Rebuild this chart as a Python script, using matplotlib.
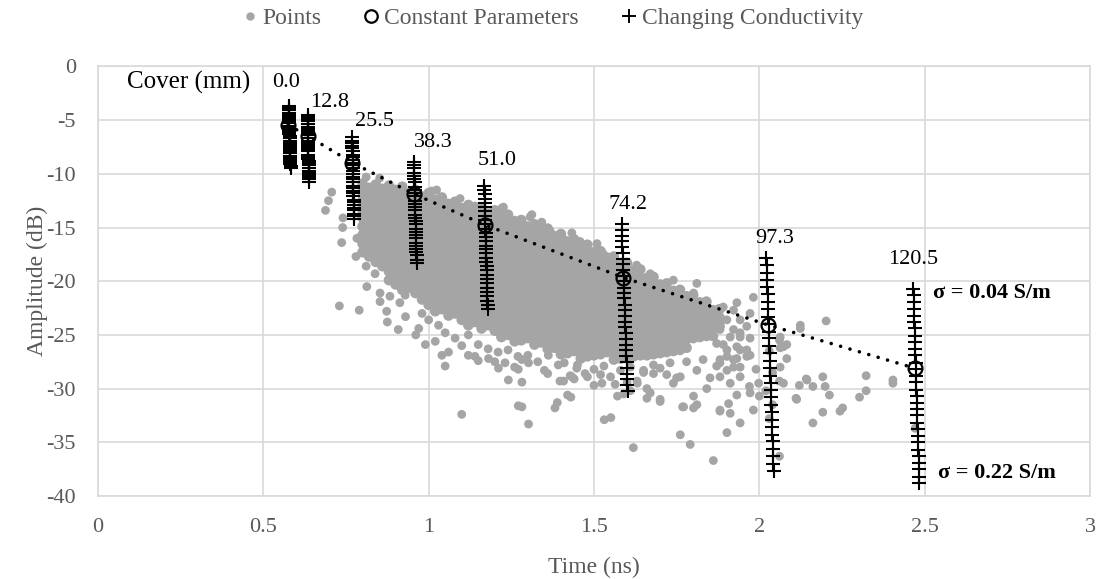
import matplotlib.pyplot as plt
from matplotlib.lines import Line2D

plt.rcParams['font.family'] = ['Liberation Serif', 'DejaVu Serif']

# dense part of the gray cloud, read slice by slice: (time, [amplitudes])
cloud_core = [
    (0.80, [-10.9, -11.7, -12.5, -13.3, -14.1, -14.9, -15.7, -16.5, -17.3]),
    (0.82, [-11.3, -12.1, -12.9, -13.7, -14.5, -15.3, -16.1, -16.9, -17.7]),
    (0.84, [-11.0, -11.8, -12.6, -13.4, -14.2, -15.0, -15.8, -16.6, -17.4, -18.2]),
    (0.86, [-11.4, -12.2, -13.0, -13.8, -14.6, -15.4, -16.2, -17.0, -17.8, -18.6]),
    (0.88, [-11.1, -11.9, -12.7, -13.5, -14.3, -15.1, -15.9, -16.7, -17.5, -18.3, -19.1, -19.9]),
    (0.90, [-11.5, -12.3, -13.1, -13.9, -14.7, -15.5, -16.3, -17.1, -17.9, -18.7, -19.5, -20.3]),
    (0.92, [-11.2, -12.0, -12.8, -13.6, -14.4, -15.2, -16.0, -16.8, -17.6, -18.4, -19.2, -20.0, -20.8]),
    (0.94, [-11.8, -12.6, -13.4, -14.2, -15.0, -15.8, -16.6, -17.4, -18.2, -19.0, -19.8, -20.6]),
    (0.96, [-11.5, -12.3, -13.1, -13.9, -14.7, -15.5, -16.3, -17.1, -17.9, -18.7, -19.5, -20.3, -21.1]),
    (0.98, [-12.1, -12.9, -13.7, -14.5, -15.3, -16.1, -16.9, -17.7, -18.5, -19.3, -20.1, -20.9, -21.7]),
    (1.00, [-11.8, -12.6, -13.4, -14.2, -15.0, -15.8, -16.6, -17.4, -18.2, -19.0, -19.8, -20.6, -21.4, -22.2]),
    (1.02, [-12.4, -13.2, -14.0, -14.8, -15.6, -16.4, -17.2, -18.0, -18.8, -19.6, -20.4, -21.2, -22.0, -22.8]),
    (1.04, [-12.2, -13.0, -13.8, -14.6, -15.4, -16.2, -17.0, -17.8, -18.6, -19.4, -20.2, -21.0, -21.8, -22.6]),
    (1.06, [-12.8, -13.6, -14.4, -15.2, -16.0, -16.8, -17.6, -18.4, -19.2, -20.0, -20.8, -21.6, -22.4, -23.2]),
    (1.08, [-12.6, -13.4, -14.2, -15.0, -15.8, -16.6, -17.4, -18.2, -19.0, -19.8, -20.6, -21.4, -22.2, -23.0]),
    (1.10, [-13.2, -14.0, -14.8, -15.6, -16.4, -17.2, -18.0, -18.8, -19.6, -20.4, -21.2, -22.0, -22.8, -23.6]),
    (1.12, [-12.9, -13.7, -14.5, -15.3, -16.1, -16.9, -17.7, -18.5, -19.3, -20.1, -20.9, -21.7, -22.5, -23.3, -24.1]),
    (1.14, [-13.4, -14.2, -15.0, -15.8, -16.6, -17.4, -18.2, -19.0, -19.8, -20.6, -21.4, -22.2, -23.0, -23.8]),
    (1.16, [-13.2, -14.0, -14.8, -15.6, -16.4, -17.2, -18.0, -18.8, -19.6, -20.4, -21.2, -22.0, -22.8, -23.6, -24.4]),
    (1.18, [-13.7, -14.5, -15.3, -16.1, -16.9, -17.7, -18.5, -19.3, -20.1, -20.9, -21.7, -22.5, -23.3, -24.1]),
    (1.20, [-13.4, -14.2, -15.0, -15.8, -16.6, -17.4, -18.2, -19.0, -19.8, -20.6, -21.4, -22.2, -23.0, -23.8, -24.6]),
    (1.22, [-14.0, -14.8, -15.6, -16.4, -17.2, -18.0, -18.8, -19.6, -20.4, -21.2, -22.0, -22.8, -23.6, -24.4, -25.2]),
    (1.24, [-13.8, -14.6, -15.4, -16.2, -17.0, -17.8, -18.6, -19.4, -20.2, -21.0, -21.8, -22.6, -23.4, -24.2, -25.0]),
    (1.26, [-14.4, -15.2, -16.0, -16.8, -17.6, -18.4, -19.2, -20.0, -20.8, -21.6, -22.4, -23.2, -24.0, -24.8, -25.6]),
    (1.28, [-14.3, -15.1, -15.9, -16.7, -17.5, -18.3, -19.1, -19.9, -20.7, -21.5, -22.3, -23.1, -23.9, -24.7, -25.5]),
    (1.30, [-14.9, -15.7, -16.5, -17.3, -18.1, -18.9, -19.7, -20.5, -21.3, -22.1, -22.9, -23.7, -24.5, -25.3]),
    (1.32, [-14.7, -15.5, -16.3, -17.1, -17.9, -18.7, -19.5, -20.3, -21.1, -21.9, -22.7, -23.5, -24.3, -25.1, -25.9]),
    (1.34, [-15.3, -16.1, -16.9, -17.7, -18.5, -19.3, -20.1, -20.9, -21.7, -22.5, -23.3, -24.1, -24.9, -25.7]),
    (1.36, [-15.1, -15.9, -16.7, -17.5, -18.3, -19.1, -19.9, -20.7, -21.5, -22.3, -23.1, -23.9, -24.7, -25.5, -26.3]),
    (1.38, [-15.8, -16.6, -17.4, -18.2, -19.0, -19.8, -20.6, -21.4, -22.2, -23.0, -23.8, -24.6, -25.4, -26.2]),
    (1.40, [-15.6, -16.4, -17.2, -18.0, -18.8, -19.6, -20.4, -21.2, -22.0, -22.8, -23.6, -24.4, -25.2, -26.0, -26.8]),
    (1.42, [-16.3, -17.1, -17.9, -18.7, -19.5, -20.3, -21.1, -21.9, -22.7, -23.5, -24.3, -25.1, -25.9, -26.7]),
    (1.44, [-16.1, -16.9, -17.7, -18.5, -19.3, -20.1, -20.9, -21.7, -22.5, -23.3, -24.1, -24.9, -25.7, -26.5]),
    (1.46, [-16.8, -17.6, -18.4, -19.2, -20.0, -20.8, -21.6, -22.4, -23.2, -24.0, -24.8, -25.6, -26.4, -27.2]),
    (1.48, [-16.6, -17.4, -18.2, -19.0, -19.8, -20.6, -21.4, -22.2, -23.0, -23.8, -24.6, -25.4, -26.2, -27.0]),
    (1.50, [-17.3, -18.1, -18.9, -19.7, -20.5, -21.3, -22.1, -22.9, -23.7, -24.5, -25.3, -26.1, -26.9]),
    (1.52, [-17.2, -18.0, -18.8, -19.6, -20.4, -21.2, -22.0, -22.8, -23.6, -24.4, -25.2, -26.0, -26.8]),
    (1.54, [-17.8, -18.6, -19.4, -20.2, -21.0, -21.8, -22.6, -23.4, -24.2, -25.0, -25.8, -26.6]),
    (1.56, [-17.7, -18.5, -19.3, -20.1, -20.9, -21.7, -22.5, -23.3, -24.1, -24.9, -25.7, -26.5, -27.3]),
    (1.58, [-18.4, -19.2, -20.0, -20.8, -21.6, -22.4, -23.2, -24.0, -24.8, -25.6, -26.4, -27.2]),
    (1.60, [-18.3, -19.1, -19.9, -20.7, -21.5, -22.3, -23.1, -23.9, -24.7, -25.5, -26.3, -27.1]),
    (1.62, [-19.0, -19.8, -20.6, -21.4, -22.2, -23.0, -23.8, -24.6, -25.4, -26.2, -27.0]),
    (1.64, [-18.9, -19.7, -20.5, -21.3, -22.1, -22.9, -23.7, -24.5, -25.3, -26.1, -26.9]),
    (1.66, [-19.7, -20.5, -21.3, -22.1, -22.9, -23.7, -24.5, -25.3, -26.1, -26.9]),
    (1.68, [-19.6, -20.4, -21.2, -22.0, -22.8, -23.6, -24.4, -25.2, -26.0, -26.8]),
    (1.70, [-20.3, -21.1, -21.9, -22.7, -23.5, -24.3, -25.1, -25.9, -26.7]),
    (1.72, [-20.2, -21.0, -21.8, -22.6, -23.4, -24.2, -25.0, -25.8, -26.6]),
    (1.74, [-20.9, -21.7, -22.5, -23.3, -24.1, -24.9, -25.7, -26.5]),
    (1.76, [-20.8, -21.6, -22.4, -23.2, -24.0, -24.8, -25.6, -26.4]),
    (1.78, [-21.4, -22.2, -23.0, -23.8, -24.6, -25.4, -26.2]),
    (1.80, [-21.3, -22.1, -22.9, -23.7, -24.5, -25.3]),
    (1.82, [-22.0, -22.8, -23.6, -24.4, -25.2]),
    (1.84, [-21.9, -22.7, -23.5, -24.3, -25.1]),
    (1.86, [-22.7, -23.5, -24.3, -25.1]),
    (1.88, [-22.6, -23.4, -24.2]),
]

# scattered points round the dense part: (time, amplitude)
cloud_extra = [
    (0.707, -11.7), (0.697, -12.5), (0.688, -13.4), (0.741, -14.1), (0.740, -15.0),
    (0.737, -16.4), (0.730, -22.3), (0.790, -22.7),
    (0.811, -10.3), (0.852, -10.4), (0.798, -13.4), (0.783, -16.0), (0.780, -17.7),
    (0.808, -16.9), (0.811, -18.6), (0.838, -19.3), (0.813, -20.5), (0.853, -21.1),
    (0.853, -21.9), (0.873, -22.8), (0.875, -23.8), (0.908, -24.5), (0.961, -25.0),
    (0.913, -22.0), (0.929, -21.3), (0.843, -17.6), (0.883, -21.4),
    (1.009, -11.6), (1.024, -11.5), (1.095, -12.3), (1.140, -13.0), (1.221, -13.2),
    (1.226, -13.1), (1.307, -14.0), (1.312, -13.8), (1.342, -14.5), (1.367, -15.3),
    (1.403, -15.8), (1.433, -15.5), (1.458, -16.3), (1.509, -16.5), (1.529, -17.5),
    (1.629, -18.5), (1.670, -19.3), (1.705, -20.3), (1.740, -19.9), (1.811, -20.2),
    (1.761, -20.8), (1.801, -21.1), (1.821, -21.9), (1.891, -22.4), (1.932, -22.0),
    (1.982, -21.5),
    (0.93, -23.3), (0.98, -23.0), (1.00, -23.6), (1.03, -24.1), (0.97, -24.4),
    (1.05, -24.8), (1.08, -25.3), (1.02, -25.6), (1.12, -25.0), (1.10, -26.0),
    (1.15, -25.9), (1.18, -26.3), (1.21, -26.6), (1.24, -26.4), (1.27, -27.0),
    (1.14, -27.0), (1.20, -27.5), (1.30, -26.9), (1.33, -27.5), (1.26, -28.0),
    (1.35, -28.3), (1.06, -26.6), (0.99, -25.9), (1.04, -26.9),
    (1.45, -27.8), (1.50, -28.2), (1.53, -27.9), (1.58, -28.3), (1.61, -28.0),
    (1.55, -28.9), (1.65, -28.5), (1.70, -28.1), (1.73, -27.6), (1.68, -27.8),
    (1.78, -27.5), (1.83, -27.3), (1.63, -29.3), (1.75, -29.0), (1.41, -27.6),
    (1.36, -28.6), (1.44, -29.1), (1.52, -28.7), (1.60, -29.4), (1.59, -30.5),
    (1.61, -30.2),
    (1.050, -27.9), (1.100, -32.4), (1.120, -26.9), (1.150, -27.4), (1.181, -27.2),
    (1.211, -28.1), (1.241, -29.2), (1.231, -27.6), (1.271, -28.2), (1.282, -29.4),
    (1.271, -31.6), (1.282, -31.7), (1.302, -33.3), (1.282, -27.3), (1.302, -27.6),
    (1.362, -26.9), (1.392, -27.8), (1.408, -29.3), (1.397, -29.3), (1.382, -31.8),
    (1.389, -31.3), (1.420, -30.6), (1.430, -30.8), (1.433, -28.9), (1.473, -28.6),
    (1.480, -28.9), (1.500, -29.7), (1.524, -29.5), (1.531, -32.9), (1.551, -32.7),
    (1.564, -29.6), (1.571, -30.7), (1.619, -35.5), (1.631, -29.5), (1.660, -30.0),
    (1.660, -30.9), (1.448, -28.1), (1.473, -27.0), (1.428, -28.8),
    (1.650, -28.3), (1.680, -28.6), (1.720, -28.7), (1.761, -28.9), (1.740, -29.5),
    (1.811, -28.3), (1.851, -29.0), (1.670, -30.4), (1.700, -31.0), (1.700, -31.2),
    (1.771, -31.7), (1.811, -31.5), (1.801, -30.7), (1.841, -30.0), (1.881, -32.0),
    (1.907, -31.4), (1.912, -32.3), (1.942, -33.2), (1.902, -34.1), (1.761, -34.3),
    (1.791, -35.2), (1.861, -36.7), (1.768, -31.7), (1.801, -31.8), (1.881, -32.1),
    (1.982, -32.0), (1.972, -30.4), (1.998, -29.5), (2.000, -30.7), (1.970, -29.8),
    (1.932, -30.6), (1.912, -29.5), (1.881, -28.9), (1.942, -28.9), (1.922, -28.0),
    (1.871, -27.9), (1.881, -27.3), (1.922, -27.3), (1.962, -27.0), (1.962, -26.4),
    (1.932, -26.1), (1.902, -26.4), (1.871, -25.8), (1.942, -25.2), (1.972, -25.3),
    (1.922, -24.5), (1.881, -24.5), (1.962, -24.2), (1.902, -23.6), (1.871, -23.1),
    (1.922, -22.7), (1.881, -23.9), (1.942, -23.6), (1.972, -23.0), (1.942, -24.8),
    (1.912, -25.2), (1.891, -25.9), (1.942, -26.4), (1.932, -27.2), (1.972, -26.9),
    (1.902, -27.0), (1.881, -27.6), (1.942, -28.0), (1.902, -28.3), (1.990, -28.2),
    (2.03, -26.5), (2.04, -28.5), (2.02, -30.2), (2.04, -31.5), (2.03, -32.8),
    (2.061, -25.5), (2.073, -26.1), (2.063, -25.2), (2.083, -25.9), (2.063, -26.2),
    (2.083, -27.2), (2.063, -28.0), (2.073, -29.5), (2.061, -29.3), (2.061, -36.3),
    (2.124, -24.1), (2.124, -24.4), (2.202, -23.7), (2.144, -29.2), (2.121, -29.7),
    (2.113, -31.0), (2.162, -29.8), (2.192, -28.9), (2.199, -29.8), (2.212, -30.6),
    (2.192, -32.2), (2.162, -33.2), (2.244, -32.1), (2.252, -31.8), (2.303, -30.8),
    (2.323, -30.2), (2.323, -28.8), (2.404, -29.2), (2.404, -29.5), (2.471, -33.7),
    (2.111, -30.9), (2.142, -29.1),
]

# constant parameters, one per cover depth
cover_labels = ['0.0', '12.8', '25.5', '38.3', '51.0', '74.2', '97.3', '120.5']
const_t = [0.575, 0.634, 0.769, 0.957, 1.171, 1.589, 2.026, 2.471]
const_a = [-5.45, -6.47, -8.96, -11.9, -14.76, -19.66, -24.07, -28.1]

# changing conductivity (0.04 -> 0.22 S/m), one column per cover depth
cond_t = [
    [0.577, 0.577, 0.577, 0.577, 0.578, 0.578, 0.578, 0.578, 0.578, 0.579, 0.579, 0.579, 0.579, 0.579, 0.580,
     0.580, 0.580, 0.580, 0.580, 0.581, 0.581, 0.581, 0.581, 0.581, 0.582, 0.582, 0.582, 0.582, 0.583, 0.583],
    [0.634, 0.634, 0.634, 0.634, 0.634, 0.634, 0.635, 0.635, 0.635, 0.635, 0.635, 0.635, 0.635, 0.636, 0.636,
     0.636, 0.636, 0.636, 0.636, 0.636, 0.637, 0.637, 0.637, 0.637, 0.637, 0.637, 0.637, 0.638, 0.638, 0.638],
    [0.769, 0.769, 0.769, 0.769, 0.769, 0.770, 0.770, 0.770, 0.770, 0.770, 0.770, 0.771, 0.771, 0.771, 0.771,
     0.771, 0.772, 0.772, 0.772, 0.772, 0.772, 0.772, 0.773, 0.773, 0.773, 0.773, 0.773, 0.774, 0.774, 0.774],
    [0.956, 0.956, 0.956, 0.957, 0.957, 0.957, 0.958, 0.958, 0.958, 0.958, 0.959, 0.959, 0.959, 0.960, 0.960,
     0.960, 0.960, 0.961, 0.961, 0.961, 0.962, 0.962, 0.962, 0.962, 0.963, 0.963, 0.963, 0.964, 0.964, 0.964],
    [1.168, 1.168, 1.169, 1.169, 1.169, 1.170, 1.170, 1.170, 1.171, 1.171, 1.171, 1.172, 1.172, 1.172, 1.173,
     1.173, 1.174, 1.174, 1.174, 1.175, 1.175, 1.175, 1.176, 1.176, 1.176, 1.177, 1.177, 1.177, 1.178, 1.178],
    [1.584, 1.585, 1.585, 1.586, 1.586, 1.587, 1.588, 1.588, 1.589, 1.590, 1.590, 1.591, 1.591, 1.592, 1.593,
     1.593, 1.594, 1.595, 1.595, 1.596, 1.596, 1.597, 1.598, 1.598, 1.599, 1.600, 1.600, 1.601, 1.601, 1.602],
    [2.021, 2.022, 2.023, 2.023, 2.024, 2.025, 2.026, 2.026, 2.027, 2.028, 2.029, 2.029, 2.030, 2.031, 2.032,
     2.032, 2.033, 2.034, 2.035, 2.035, 2.036, 2.037, 2.038, 2.038, 2.039, 2.040, 2.041, 2.041, 2.042, 2.043],
    [2.466, 2.467, 2.467, 2.468, 2.468, 2.469, 2.470, 2.470, 2.471, 2.472, 2.472, 2.473, 2.473, 2.474, 2.475,
     2.475, 2.476, 2.477, 2.477, 2.478, 2.478, 2.479, 2.480, 2.480, 2.481, 2.482, 2.482, 2.483, 2.483, 2.484],
]
cond_a = [
    [-3.7, -3.9, -4.1, -4.3, -4.5, -4.7, -4.9, -5.1, -5.3, -5.5, -5.7, -5.9, -6.1, -6.3, -6.5,
     -6.7, -6.9, -7.1, -7.3, -7.5, -7.7, -7.9, -8.1, -8.3, -8.5, -8.7, -8.9, -9.1, -9.3, -9.5],
    [-4.5, -4.7, -4.9, -5.1, -5.4, -5.6, -5.8, -6.0, -6.2, -6.4, -6.7, -6.9, -7.1, -7.3, -7.5,
     -7.7, -7.9, -8.2, -8.4, -8.6, -8.8, -9.0, -9.2, -9.5, -9.7, -9.9, -10.1, -10.3, -10.5, -10.8],
    [-6.6, -6.9, -7.1, -7.4, -7.6, -7.9, -8.2, -8.4, -8.7, -9.0, -9.2, -9.5, -9.7, -10.0, -10.3,
     -10.5, -10.8, -11.1, -11.3, -11.6, -11.8, -12.1, -12.4, -12.6, -12.9, -13.2, -13.4, -13.7, -13.9, -14.2],
    [-8.9, -9.2, -9.5, -9.9, -10.2, -10.5, -10.8, -11.2, -11.5, -11.8, -12.1, -12.5, -12.8, -13.1, -13.4,
     -13.8, -14.1, -14.4, -14.7, -15.1, -15.4, -15.7, -16.0, -16.4, -16.7, -17.0, -17.3, -17.6, -18.0, -18.3],
    [-11.1, -11.5, -11.9, -12.3, -12.7, -13.1, -13.5, -13.9, -14.3, -14.7, -15.1, -15.5, -15.9, -16.3, -16.7,
     -17.0, -17.4, -17.8, -18.2, -18.6, -19.0, -19.4, -19.8, -20.2, -20.6, -21.0, -21.4, -21.8, -22.2, -22.6],
    [-14.7, -15.2, -15.8, -16.3, -16.8, -17.4, -17.9, -18.4, -19.0, -19.5, -20.0, -20.6, -21.1, -21.6, -22.2,
     -22.7, -23.2, -23.8, -24.3, -24.8, -25.4, -25.9, -26.4, -27.0, -27.5, -28.1, -28.6, -29.1, -29.7, -30.2],
    [-17.8, -18.5, -19.2, -19.9, -20.5, -21.2, -21.9, -22.6, -23.3, -24.0, -24.7, -25.3, -26.0, -26.7, -27.4,
     -28.1, -28.8, -29.5, -30.1, -30.8, -31.5, -32.2, -32.9, -33.6, -34.3, -34.9, -35.6, -36.3, -37.0, -37.7],
    [-20.7, -21.3, -21.9, -22.6, -23.2, -23.8, -24.4, -25.1, -25.7, -26.3, -26.9, -27.6, -28.2, -28.8, -29.4,
     -30.1, -30.7, -31.3, -31.9, -32.5, -33.2, -33.8, -34.4, -35.0, -35.7, -36.3, -36.9, -37.5, -38.2, -38.8],
]

# where the cover labels sit (time, amplitude of the text centre)
label_t = [0.569, 0.699, 0.835, 1.013, 1.207, 1.603, 2.045, 2.465]
label_a = [-1.5, -3.4, -5.1, -7.1, -8.8, -12.9, -16.0, -18.0]

x_ticks = [0, 0.5, 1, 1.5, 2, 2.5, 3]
x_labels = ['0', '0.5', '1', '1.5', '2', '2.5', '3']
y_ticks = [0, -5, -10, -15, -20, -25, -30, -35, -40]

gray = '#a5a5a5'
txt = '#595959'
grid = '#d9d9d9'

fig = plt.figure(figsize=(11.01, 5.79), dpi=100)
ax = fig.add_axes([0.089, 0.1434, 0.901, 0.7418])

core_t = []
core_a = []
for t, amps in cloud_core:
    for a in amps:
        core_t.append(t)
        core_a.append(a)
extra_t = [p[0] for p in cloud_extra]
extra_a = [p[1] for p in cloud_extra]

# the dense band is drawn with slightly fuller dots so it closes up like the original
ax.scatter(core_t, core_a, s=58, color=gray, edgecolors='none', zorder=2)
ax.scatter(extra_t, extra_a, s=40, color=gray, edgecolors='none', zorder=2)

# dotted line through the constant-parameter points
ax.plot(const_t, const_a, color='black', lw=2.6, linestyle=(0, (0.01, 2.7)),
        dash_capstyle='round', zorder=3)
ax.plot(const_t, const_a, 'o', ms=10, mfc='none', mec='black', mew=1.6, zorder=4)

for ts, amps in zip(cond_t, cond_a):
    ax.plot(ts, amps, '+', ms=9.5, mew=1.5, color='black', linestyle='none', zorder=5)

for lab, t, a in zip(cover_labels, label_t, label_a):
    ax.text(t, a, lab, ha='center', va='center', fontsize=16, color='black', zorder=6)
ax.text(0.275, -1.5, 'Cover (mm)', ha='center', va='center', fontsize=18, color='black')
ax.text(2.526, -21.1, 'σ = 0.04 S/m', ha='left', va='center', fontsize=16, fontweight='bold')
ax.text(2.541, -37.9, 'σ = 0.22 S/m', ha='left', va='center', fontsize=16, fontweight='bold')

ax.set_xlim(0, 3)
ax.set_ylim(-40, 0)
ax.set_xticks(x_ticks)
ax.set_xticklabels(x_labels)
ax.set_yticks(y_ticks)
ax.set_yticklabels([str(v) for v in y_ticks])
ax.tick_params(length=0, labelsize=16, labelcolor=txt, pad=16)
ax.grid(True, color=grid, lw=1.2, zorder=0)
ax.set_axisbelow(True)
for sp in ax.spines.values():
    sp.set_color(grid)
    sp.set_linewidth(1.2)

ax.set_xlabel('Time (ns)', fontsize=17, color=txt, labelpad=14)
ax.set_ylabel('Amplitude (dB)', fontsize=17, color=txt, labelpad=-1)

handles = [
    Line2D([], [], marker='o', ms=5, color=gray, linestyle='none'),
    Line2D([], [], marker='o', ms=9, mfc='none', mec='black', mew=1.6, linestyle='none'),
    Line2D([], [], marker='+', ms=10, mew=1.4, color='black', linestyle='none'),
]
leg = fig.legend(handles, ['Points', 'Constant Parameters', 'Changing Conductivity'],
                 loc='center', bbox_to_anchor=(0.5, 1 - 18 / 579), ncol=3, frameon=False,
                 fontsize=17, handletextpad=0.05, columnspacing=1.6, handlelength=1.0)
for t in leg.get_texts():
    t.set_color(txt)

fig.savefig('out.png', dpi=100)
